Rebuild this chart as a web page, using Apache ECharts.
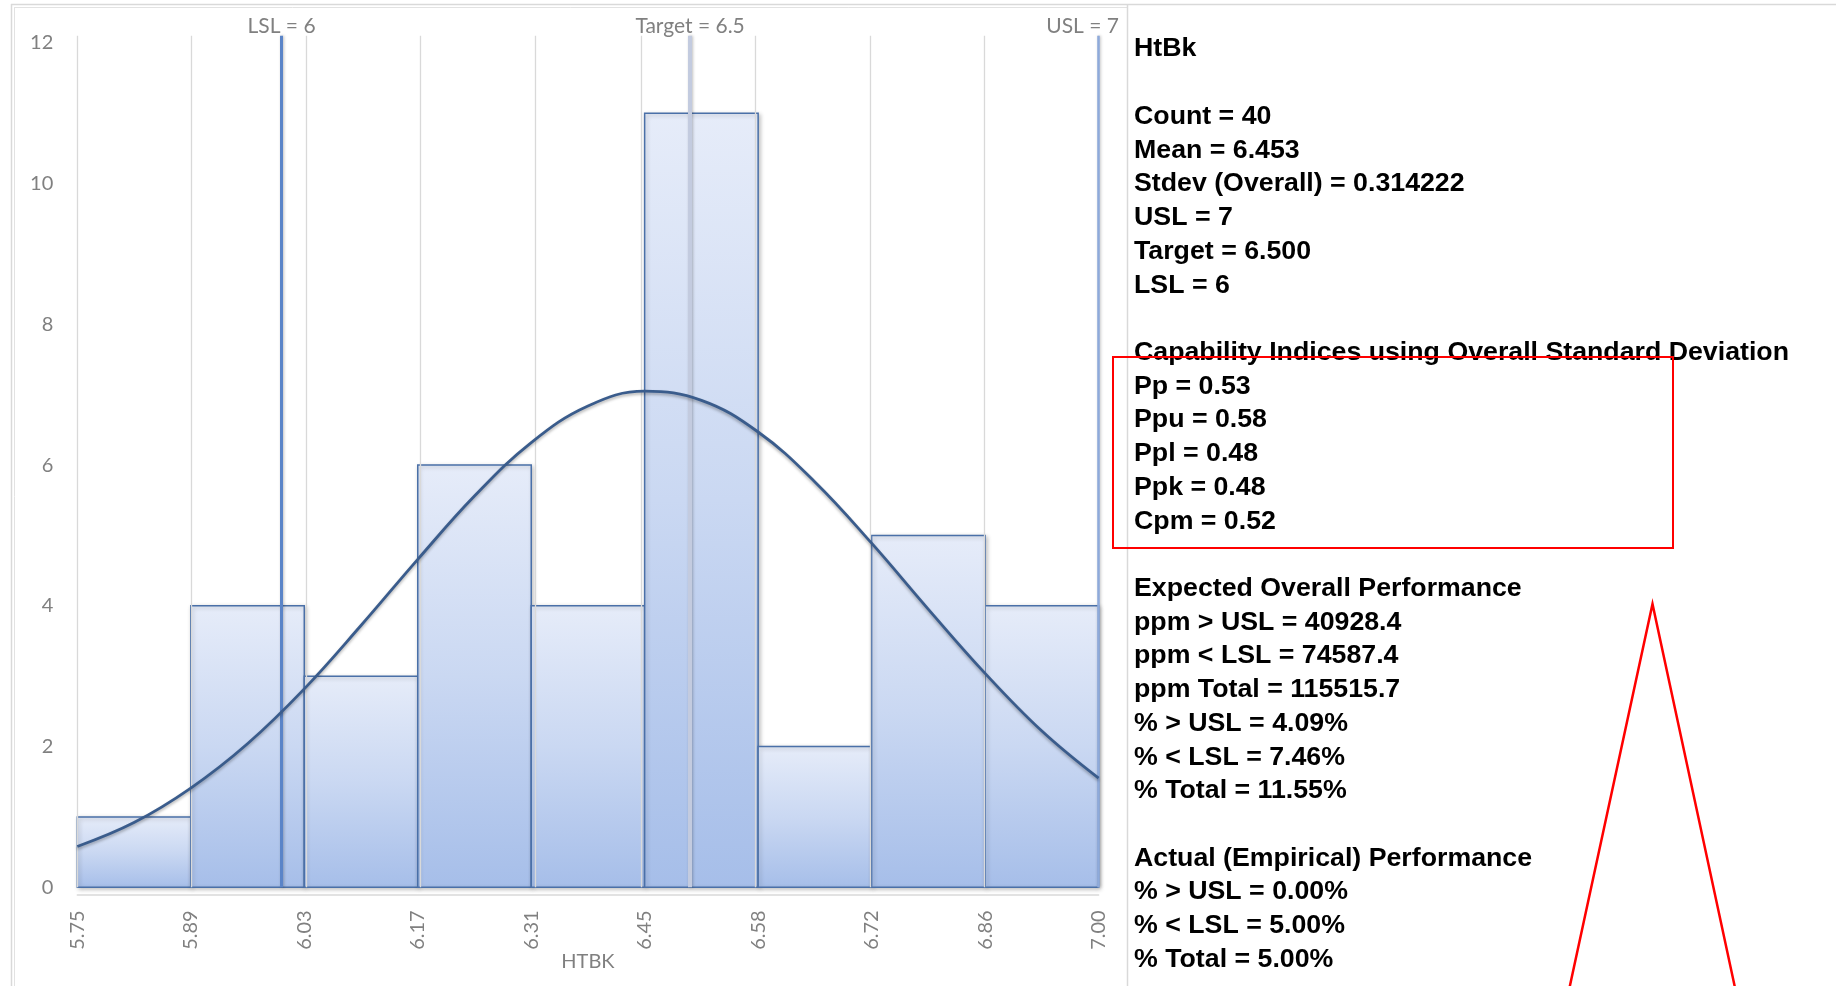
<!DOCTYPE html>
<html>
<head>
<meta charset="utf-8">
<script src="https://cdn.jsdelivr.net/npm/echarts@6/dist/echarts.min.js"></script>
<style>
html,body{margin:0;padding:0;background:#fff;}
#chart{width:1836px;height:986px;}
</style>
</head>
<body>
<div id="chart"></div>
<script>
// ---- data ----
const binEdges = [5.75, 5.8889, 6.0278, 6.1667, 6.3056, 6.4444, 6.5833, 6.7222, 6.8611, 7.00];
const tickLabels = ['5.75','5.89','6.03','6.17','6.31','6.45','6.58','6.72','6.86','7.00'];
const binCounts = [1, 4, 3, 6, 4, 11, 2, 5, 4];
const curveX = [5.75, 5.8194, 5.8889, 5.9583, 6.0278, 6.0972, 6.1667, 6.2361, 6.3056, 6.375, 6.4444, 6.5139, 6.5833, 6.6528, 6.7222, 6.7917, 6.8611, 6.9306, 7.00];
const curveY = [0.58, 0.92, 1.41, 2.04, 2.82, 3.72, 4.66, 5.56, 6.32, 6.84, 7.05, 6.92, 6.47, 5.76, 4.89, 3.95, 3.04, 2.22, 1.55];
const specNames = ['LSL', 'Target', 'USL'];
const specValues = [6, 6.5, 7];
const specLabels = ['LSL = 6', 'Target = 6.5', 'USL = 7'];
const yTicks = [0, 2, 4, 6, 8, 10, 12];
const axisTitle = 'HTBK';
const statLines = [
  'HtBk', '',
  'Count = 40', 'Mean = 6.453', 'Stdev (Overall) = 0.314222', 'USL = 7', 'Target = 6.500', 'LSL = 6', '',
  'Capability Indices using Overall Standard Deviation',
  'Pp = 0.53', 'Ppu = 0.58', 'Ppl = 0.48', 'Ppk = 0.48', 'Cpm = 0.52', '',
  'Expected Overall Performance',
  'ppm > USL = 40928.4', 'ppm < LSL = 74587.4', 'ppm Total = 115515.7',
  '% > USL = 4.09%', '% < LSL = 7.46%', '% Total = 11.55%', '',
  'Actual (Empirical) Performance',
  '% > USL = 0.00%', '% < LSL = 5.00%', '% Total = 5.00%'
];

// ---- build ----
const chart = echarts.init(document.getElementById('chart'), null, {renderer: 'canvas'});
const axisGray = '#808080';
const axisFont = 'Lato';

const histData = binCounts.map((c, i) => [binEdges[i], binEdges[i + 1], c]);
const curveData = curveX.map((x, i) => [x, curveY[i]]);
const specStyles = [
  {color: '#5a84c8', width: 3},
  {color: '#c3cbdf', width: 4},
  {color: '#8eaadb', width: 2.5}
];
const specTop = 12.1;

const graphics = [];
// frame lines
graphics.push({type: 'line', shape: {x1: 11, y1: 4.5, x2: 1836, y2: 4.5}, style: {stroke: '#d9d9d9', lineWidth: 1.5}, silent: true});
graphics.push({type: 'line', shape: {x1: 14.5, y1: 7.5, x2: 1127, y2: 7.5}, style: {stroke: '#e2e2e2', lineWidth: 1}, silent: true});
graphics.push({type: 'line', shape: {x1: 11.5, y1: 4, x2: 11.5, y2: 986}, style: {stroke: '#d9d9d9', lineWidth: 1.5}, silent: true});
graphics.push({type: 'line', shape: {x1: 14.5, y1: 7, x2: 14.5, y2: 986}, style: {stroke: '#e2e2e2', lineWidth: 1}, silent: true});
graphics.push({type: 'line', shape: {x1: 1127.5, y1: 4, x2: 1127.5, y2: 986}, style: {stroke: '#d9d9d9', lineWidth: 1.5}, silent: true});
// stats text
statLines.forEach((t, i) => {
  if (!t) return;
  graphics.push({
    type: 'text', x: 1134, y: 49.3 + i * 33.72, scaleX: 1.028, silent: true, z: 10,
    style: {text: t, font: 'bold 26px "Liberation Sans", Arial, sans-serif', fill: '#000', verticalAlign: 'middle', align: 'left'}
  });
});
// red annotation box and triangle
graphics.push({type: 'rect', shape: {x: 1113, y: 357, width: 560, height: 191}, style: {fill: 'none', stroke: '#ff0000', lineWidth: 2}, silent: true, z: 20});
graphics.push({type: 'polyline', shape: {points: [[1569, 990], [1652.5, 604], [1735.5, 990]]}, style: {fill: 'none', stroke: '#ff0000', lineWidth: 2.5}, silent: true, z: 20});

const option = {
  animation: false,
  backgroundColor: '#ffffff',
  grid: {left: 77.3, right: 737.4, top: 35.8, bottom: 98.7, containLabel: false},
  xAxis: {
    type: 'value', min: binEdges[0], max: binEdges[binEdges.length - 1],
    offset: 7,
    axisLine: {show: true, onZero: false, lineStyle: {color: '#d9d9d9', width: 1.5}},
    axisTick: {show: false},
    splitLine: {show: false},
    axisLabel: {
      customValues: binEdges,
      rotate: 90, margin: 16, color: axisGray, fontSize: 20, fontFamily: axisFont,
      formatter: function (v) {
        let best = 0, d = Infinity;
        binEdges.forEach((e, i) => { if (Math.abs(e - v) < d) { d = Math.abs(e - v); best = i; } });
        return tickLabels[best];
      }
    },
    name: axisTitle, nameLocation: 'middle', nameGap: 67, nameMoveOverlap: false,
    nameTextStyle: {color: axisGray, fontSize: 20, fontFamily: axisFont, verticalAlign: 'middle'}
  },
  yAxis: {
    type: 'value', min: 0, max: specTop, interval: 2,
    axisLine: {show: false}, axisTick: {show: false}, splitLine: {show: false},
    axisLabel: {
      showMaxLabel: false, margin: 24, color: axisGray, fontSize: 20, fontFamily: axisFont,
      formatter: function (v) { return yTicks.indexOf(v) >= 0 ? String(v) : ''; }
    }
  },
  graphic: graphics,
  series: [
    {
      // vertical gridlines at bin edges
      type: 'line', data: binEdges.map(e => [e, 0]), symbol: 'none', z: 1, silent: true,
      lineStyle: {width: 0, opacity: 0},
      markLine: {
        silent: true, symbol: 'none', animation: false,
        label: {show: false},
        lineStyle: {color: '#d9d9d9', width: 1.3, type: 'solid'},
        data: binEdges.map(e => ({xAxis: e}))
      }
    },
    {
      type: 'custom', z: 3, silent: true,
      data: histData,
      encode: {x: [0, 1], y: 2},
      renderItem: function (params, api) {
        const p1 = api.coord([api.value(0), api.value(2)]);
        const p2 = api.coord([api.value(1), 0]);
        return {
          type: 'rect',
          shape: {x: p1[0], y: p1[1], width: p2[0] - p1[0], height: p2[1] - p1[1]},
          style: {
            fill: new echarts.graphic.LinearGradient(0, 0, 0, 1, [
              {offset: 0, color: '#e6ecf9'},
              {offset: 0.5, color: '#cad8f2'},
              {offset: 1, color: '#a6bee9'}
            ]),
            stroke: '#4a70a8', lineWidth: 1.5,
            shadowColor: 'rgba(0,0,0,0.22)', shadowBlur: 4, shadowOffsetX: 1.5, shadowOffsetY: 1.5
          }
        };
      }
    },
    {
      // spec limit lines
      type: 'line', data: specValues.map(v => [v, 0]), symbol: 'none', z: 4, silent: true,
      lineStyle: {width: 0, opacity: 0},
      markLine: {
        silent: true, symbol: 'none', animation: false,
        data: specValues.map((v, i) => [
          {
            coord: [v, 0],
            lineStyle: {color: specStyles[i].color, width: specStyles[i].width, type: 'solid',
              shadowColor: 'rgba(0,0,0,0.25)', shadowBlur: 3, shadowOffsetX: 1},
            label: {
              show: true, position: 'end', distance: -1,
              formatter: specLabels[i],
              color: axisGray, fontSize: 21, fontFamily: axisFont,
              padding: i === 2 ? [0, 32, 0, 0] : 0
            }
          },
          {coord: [v, specTop]}
        ])
      }
    },
    {
      type: 'line', data: curveData, smooth: 0.4, symbol: 'none', z: 5, silent: true,
      lineStyle: {color: '#3a5c8c', width: 2.8, shadowColor: 'rgba(0,0,0,0.3)', shadowBlur: 3, shadowOffsetY: 2}
    }
  ]
};
chart.setOption(option);
</script>
</body>
</html>
